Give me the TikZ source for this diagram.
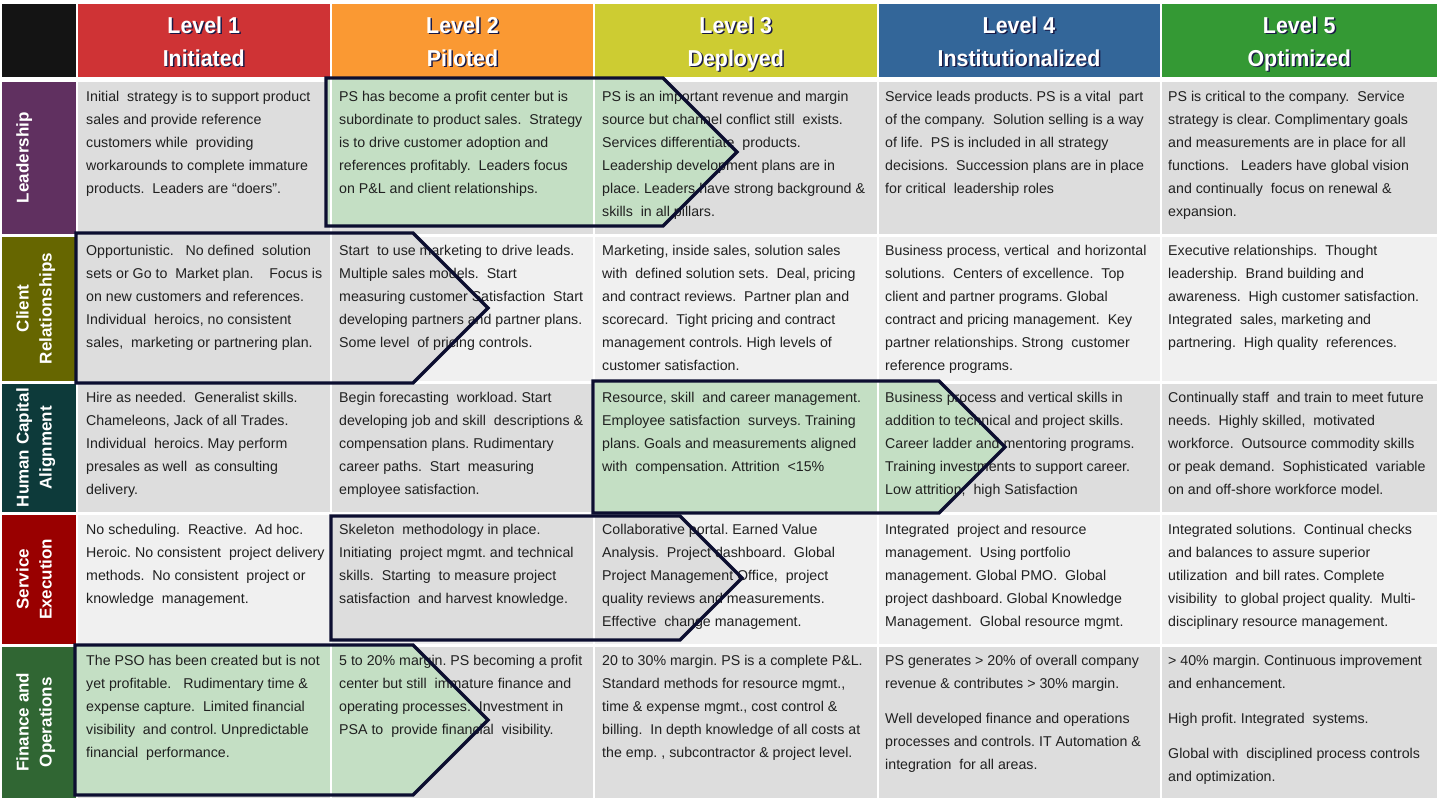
\documentclass[tikz,border=0pt]{standalone}
\usepackage{fontspec}
\setmainfont{Liberation Sans}
\newfontfamily\hdrfont[FakeStretch=0.93]{Liberation Sans}
\definecolor{hblack}{RGB}{20,20,20}
\definecolor{hred}{RGB}{207,51,53}
\definecolor{horange}{RGB}{250,153,51}
\definecolor{hyellow}{RGB}{205,204,50}
\definecolor{hblue}{RGB}{51,102,153}
\definecolor{hgreen}{RGB}{52,153,52}
\definecolor{rpurple}{RGB}{96,48,96}
\definecolor{rolive}{RGB}{102,102,0}
\definecolor{rteal}{RGB}{13,58,58}
\definecolor{rred}{RGB}{153,0,0}
\definecolor{rgreen}{RGB}{48,102,51}
\definecolor{cgray}{RGB}{221,221,221}
\definecolor{clight}{RGB}{240,240,240}
\definecolor{cgreen}{RGB}{196,223,196}
\definecolor{navy}{RGB}{12,14,48}
\definecolor{txt}{RGB}{32,32,32}
\definecolor{shad}{RGB}{25,25,70}
\newcommand\ctxt[1]{\parbox[t]{300pt}{\raggedright\frenchspacing #1}}
\newcommand\htxt[1]{\parbox[t]{250pt}{\centering #1}}
\newcommand\ltxt[1]{\parbox[t]{160pt}{\centering #1}}
\def\chevA{(326,78) -- (663,78) -- (737,152) -- (663,226) -- (326,226) -- cycle}
\def\chevB{(76,233) -- (413,233) -- (488,308) -- (413,383) -- (76,383) -- cycle}
\def\chevC{(593,381) -- (939,381) -- (1005,447) -- (939,513) -- (593,513) -- cycle}
\def\chevD{(331,516) -- (680,516) -- (742,578) -- (680,640) -- (331,640) -- cycle}
\def\chevE{(75,645) -- (413,645) -- (488,720) -- (413,795) -- (75,795) -- cycle}
\begin{document}
\begin{tikzpicture}[x=1pt,y=-1pt,
  body/.style={anchor=base west, inner sep=0pt, text=txt, font=\fontsize{14.2}{23}\selectfont},
  hdr/.style={anchor=base, inner sep=0pt, text=white, font=\hdrfont\bfseries\fontsize{23}{33}\selectfont},
  hdrsh/.style={hdr, text=shad},
  rowlab/.style={rotate=90, anchor=base, inner sep=0pt, text=white, font=\bfseries\fontsize{17}{23}\selectfont},
  chev/.style={draw=navy, line width=3.4pt, line join=miter},
  gapline/.style={draw=white, line width=2pt}]
\useasboundingbox (0,0) rectangle (1438,800);
\fill[white] (0,0) rectangle (1438,800);
% header cells
\fill[hblack] (2,4) rectangle (75.5,77);
\fill[hred] (77.5,4) rectangle (330,77);
\fill[horange] (332,4) rectangle (593,77);
\fill[hyellow] (595,4) rectangle (876.5,77);
\fill[hblue] (878.5,4) rectangle (1159.5,77);
\fill[hgreen] (1161.5,4) rectangle (1437,77);
% row label cells
\fill[rpurple] (2,82) rectangle (75.5,233.5);
\fill[rolive] (2,236.5) rectangle (75.5,380.5);
\fill[rteal] (2,383.5) rectangle (75.5,512);
\fill[rred] (2,515) rectangle (75.5,643.5);
\fill[rgreen] (2,646.5) rectangle (75.5,798);
% body cells
\foreach \xa/\xb in {77.5/330,332/593,595/876.5,878.5/1159.5,1161.5/1437}{
  \fill[cgray] (\xa,82) rectangle (\xb,233.5);
  \fill[clight] (\xa,236.5) rectangle (\xb,380.5);
  \fill[cgray] (\xa,383.5) rectangle (\xb,512);
  \fill[clight] (\xa,515) rectangle (\xb,643.5);
  \fill[cgray] (\xa,646.5) rectangle (\xb,798);
}
% chevron fills
\fill[cgreen] \chevA;
\fill[cgray] \chevB;
\fill[cgreen] \chevC;
\fill[cgray] \chevD;
\fill[cgreen] \chevE;
% column gaps showing through
\draw[gapline] (331,78) -- (331,800);
\draw[gapline] (594,78) -- (594,800);
\draw[gapline] (877.5,78) -- (877.5,800);
% headers
\node[hdrsh] (h1s) at (205.2,34.7) {\htxt{Level 1\\Initiated}};
\node[hdr] (h1) at (203.75,33.2) {\htxt{Level 1\\Initiated}};
\node[hdrsh] (h2s) at (464,34.7) {\htxt{Level 2\\Piloted}};
\node[hdr] (h2) at (462.5,33.2) {\htxt{Level 2\\Piloted}};
\node[hdrsh] (h3s) at (737.2,34.7) {\htxt{Level 3\\Deployed}};
\node[hdr] (h3) at (735.75,33.2) {\htxt{Level 3\\Deployed}};
\node[hdrsh] (h4s) at (1020.5,34.7) {\htxt{Level 4\\Institutionalized}};
\node[hdr] (h4) at (1019,33.2) {\htxt{Level 4\\Institutionalized}};
\node[hdrsh] (h5s) at (1300.7,34.7) {\htxt{Level 5\\Optimized}};
\node[hdr] (h5) at (1299.25,33.2) {\htxt{Level 5\\Optimized}};
% row labels
\node[rowlab] (r1) at (28.5,157.75) {\ltxt{Leadership}};
\node[rowlab] (r2) at (28.5,308.5) {\ltxt{Client\\Relationships}};
\node[rowlab] (r3) at (28.5,447.75) {\ltxt{Human Capital\\Alignment}};
\node[rowlab] (r4) at (28.5,579.25) {\ltxt{Service\\Execution}};
\node[rowlab] (r5) at (28.5,722.25) {\ltxt{Finance and\\Operations}};
% Leadership row
\node[body] (t11) at (86,101.5) {\ctxt{Initial~ strategy is to support product\\sales and provide reference\\customers while~ providing\\workarounds to complete immature\\products.~ Leaders are “doers”.}};
\node[body] (t12) at (339,101.5) {\ctxt{PS has become a profit center but is\\subordinate to product sales.~ Strategy\\is to drive customer adoption and\\references profitably.~ Leaders focus\\on P\&L and client relationships.}};
\node[body] (t13) at (602,101.5) {\ctxt{PS is an important revenue and margin\\source but channel conflict still~ exists.\\Services differentiate~ products.\\Leadership development plans are in\\place. Leaders have strong background \&\\skills~ in all pillars.}};
\node[body] (t14) at (885,101.5) {\ctxt{Service leads products. PS is a vital~ part\\of the company.~ Solution selling is a way\\of life.~ PS is included in all strategy\\decisions.~ Succession plans are in place\\for critical~ leadership roles}};
\node[body] (t15) at (1168,101.5) {\ctxt{PS is critical to the company.~ Service\\strategy is clear. Complimentary goals\\and measurements are in place for all\\functions.~~ Leaders have global vision\\and continually~ focus on renewal \&\\expansion.}};
% Client relationships row
\node[body] (t21) at (86,255.5) {\ctxt{Opportunistic.~~ No defined~ solution\\sets or Go to~ Market plan.~~~ Focus is\\on new customers and references.\\Individual~ heroics, no consistent\\sales,~ marketing or partnering plan.}};
\node[body] (t22) at (339,255.5) {\ctxt{Start~ to use marketing to drive leads.\\Multiple sales models.~ Start\\measuring customer Satisfaction~ Start\\developing partners and partner plans.\\Some level~ of pricing controls.}};
\node[body] (t23) at (602,255.5) {\ctxt{Marketing, inside sales, solution sales\\with~ defined solution sets.~ Deal, pricing\\and contract reviews.~ Partner plan and\\scorecard.~ Tight pricing and contract\\management controls. High levels of\\customer satisfaction.}};
\node[body] (t24) at (885,255.5) {\ctxt{Business process, vertical~ and horizontal\\solutions.~ Centers of excellence.~ Top\\client and partner programs. Global\\contract and pricing management.~ Key\\partner relationships. Strong~ customer\\reference programs.}};
\node[body] (t25) at (1168,255.5) {\ctxt{Executive relationships.~ Thought\\leadership.~ Brand building and\\awareness.~ High customer satisfaction.\\Integrated~ sales, marketing and\\partnering.~ High quality~ references.}};
% Human capital row
\node[body] (t31) at (86,402.5) {\ctxt{Hire as needed.~ Generalist skills.\\Chameleons, Jack of all Trades.\\Individual~ heroics. May perform\\presales as well~ as consulting\\delivery.}};
\node[body] (t32) at (339,402.5) {\ctxt{Begin forecasting~ workload. Start\\developing job and skill~ descriptions \&\\compensation plans. Rudimentary\\career paths.~ Start~ measuring\\employee satisfaction.}};
\node[body] (t33) at (602,402.5) {\ctxt{Resource, skill~ and career management.\\Employee satisfaction~ surveys. Training\\plans. Goals and measurements aligned\\with~ compensation. Attrition~ <15\%}};
\node[body] (t34) at (885,402.5) {\ctxt{Business process and vertical skills in\\addition to technical and project skills.\\Career ladder and mentoring programs.\\Training investments to support career.\\Low attrition,~ high Satisfaction}};
\node[body] (t35) at (1168,402.5) {\ctxt{Continually staff~ and train to meet future\\needs.~ Highly skilled,~ motivated\\workforce.~ Outsource commodity skills\\or peak demand.~ Sophisticated~ variable\\on and off-shore workforce model.}};
% Service execution row
\node[body] (t41) at (86,534) {\ctxt{No scheduling.~ Reactive.~ Ad hoc.\\Heroic. No consistent~ project delivery\\methods.~ No consistent~ project or\\knowledge~ management.}};
\node[body] (t42) at (339,534) {\ctxt{Skeleton~ methodology in place.\\Initiating~ project mgmt. and technical\\skills.~ Starting~ to measure project\\satisfaction~ and harvest knowledge.}};
\node[body] (t43) at (602,534) {\ctxt{Collaborative portal. Earned Value\\Analysis.~ Project dashboard.~ Global\\Project Management Office,~ project\\quality reviews and measurements.\\Effective~ change management.}};
\node[body] (t44) at (885,534) {\ctxt{Integrated~ project and resource\\management.~ Using portfolio\\management. Global PMO.~ Global\\project dashboard. Global Knowledge\\Management.~ Global resource mgmt.}};
\node[body] (t45) at (1168,534) {\ctxt{Integrated solutions.~ Continual checks\\and balances to assure superior\\utilization~ and bill rates. Complete\\visibility~ to global project quality.~ Multi-\\disciplinary resource management.}};
% Finance row
\node[body] (t51) at (86,665) {\ctxt{The PSO has been created but is not\\yet profitable.~~ Rudimentary time \&\\expense capture.~ Limited financial\\visibility~ and control. Unpredictable\\financial~ performance.}};
\node[body] (t52) at (339,665) {\ctxt{5 to 20\% margin. PS becoming a profit\\center but still~ immature finance and\\operating processes.~ Investment in\\PSA to~ provide financial~ visibility.}};
\node[body] (t53) at (602,665) {\ctxt{20 to 30\% margin. PS is a complete P\&L.\\Standard methods for resource mgmt.,\\time \& expense mgmt., cost control \&\\billing.~ In depth knowledge of all costs at\\the emp. , subcontractor \& project level.}};
\node[body] (t54) at (885,665) {\ctxt{PS generates > 20\% of overall company\\revenue \& contributes > 30\% margin.\\[12pt]Well developed finance and operations\\processes and controls. IT Automation \&\\integration~ for all areas.}};
\node[body] (t55) at (1168,665) {\ctxt{> 40\% margin. Continuous improvement\\and enhancement.\\[12pt]High profit. Integrated~ systems.\\[12pt]Global with~ disciplined process controls\\and optimization.}};
% chevron outlines
\draw[chev] \chevA;
\draw[chev] \chevB;
\draw[chev] \chevC;
\draw[chev] \chevD;
\draw[chev] \chevE;
\end{tikzpicture}
\end{document}
